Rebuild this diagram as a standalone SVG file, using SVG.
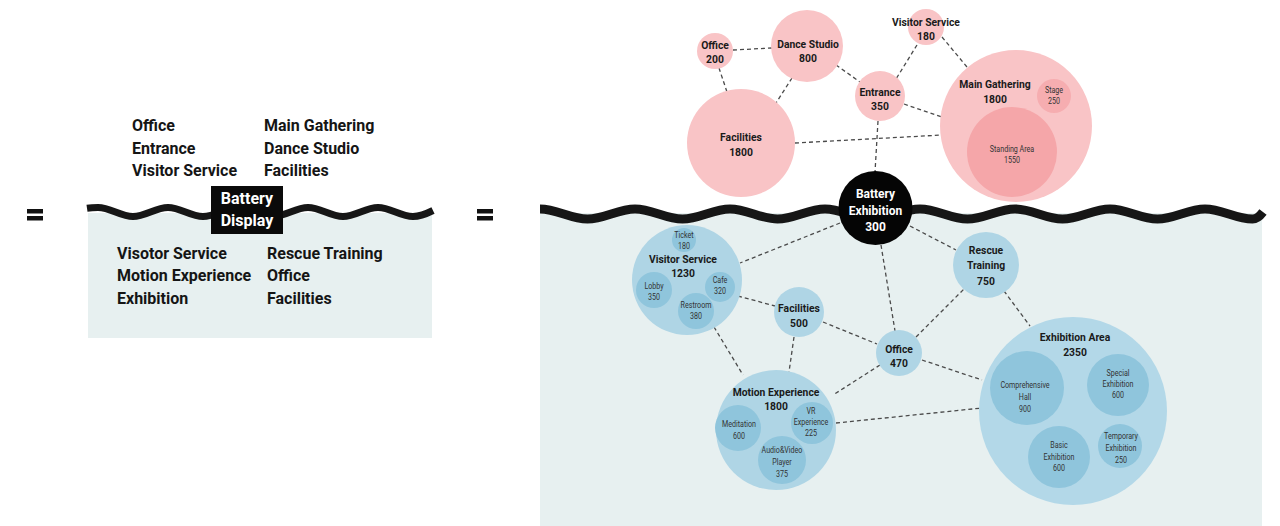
<svg xmlns="http://www.w3.org/2000/svg" width="1280" height="526" viewBox="0 0 1280 526">
<style>
.big{font-family:Roboto,"DejaVu Sans",sans-serif;font-weight:700;font-size:16px;fill:#151515}
.bx{font-family:Roboto,"DejaVu Sans",sans-serif;font-weight:700;font-size:16px;fill:#fff;text-anchor:middle}
.lbl{font-family:Roboto,"DejaVu Sans",sans-serif;font-weight:700;font-size:11.5px;fill:#1a1a1a;text-anchor:middle}
.bat{font-family:Roboto,"DejaVu Sans",sans-serif;font-weight:700;font-size:12px;fill:#fff;text-anchor:middle}
.in{font-family:Roboto,"DejaVu Sans",sans-serif;font-weight:400;font-size:9.5px;fill:#333;text-anchor:middle}
.pk{fill:#f9c4c6}
.pk2{fill:#f5a6a9}
.bl{fill:#afd5e5}
.bl2{fill:#8fc5dc}
.panel{fill:#e7f0f0}
.wave{fill:none;stroke:#161616;stroke-linecap:butt}
.con line{stroke:#4a4a4a;stroke-width:1.3;stroke-dasharray:4 3}
</style>

<!-- background panels -->
<rect class="panel" x="88" y="213" width="344" height="125"/>
<rect class="panel" x="540" y="213" width="722" height="313"/>

<!-- equals signs -->
<g id="eq-left"><rect x="27" y="209" width="16" height="4.5" fill="#111"/><rect x="27" y="216" width="16" height="4.5" fill="#111"/></g>
<g id="eq-right"><rect x="477" y="209" width="16" height="4.5" fill="#111"/><rect x="477" y="216" width="16" height="4.5" fill="#111"/></g>

<!-- waves -->
<path class="wave" stroke-width="7" d="M 87 208.2 C 91 207.6 94 207.5 98 207.5 C 110.6 207.5 120.4 216.5 133 216.5 C 145.6 216.5 155.4 207.5 168 207.5 C 180.6 207.5 190.4 216.5 203 216.5 C 215.6 216.5 225.4 207.5 238 207.5 C 250.6 207.5 260.4 216.5 273 216.5 C 285.6 216.5 295.4 207.5 308 207.5 C 320.6 207.5 330.4 216.5 343 216.5 C 355.6 216.5 365.4 207.5 378 207.5 C 390.6 207.5 400.4 216.5 413 216.5 C 421 216.5 427 213.5 433 210.5"/>
<path class="wave" stroke-width="9" d="M 540 209 C 557 209 570.5 219 587.5 219 S 618 209 635 209 S 665.5 219 682.5 219 S 713 209 730 209 S 760.5 219 777.5 219 S 808 209 825 209 S 855.5 219 872.5 219 S 903 209 920 209 S 950.5 219 967.5 219 S 998 209 1015 209 S 1045.5 219 1062.5 219 S 1093 209 1110 209 S 1140.5 219 1157.5 219 S 1188 209 1205 209 S 1235.5 219 1252.5 219 C 1257 219 1260 216 1263 212"/>

<!-- left summary -->
<g id="summary-above">
<text class="big" x="132" y="131">Office</text>
<text class="big" x="132" y="154">Entrance</text>
<text class="big" x="132" y="176">Visitor Service</text>
<text class="big" x="264" y="131">Main Gathering</text>
<text class="big" x="264" y="154">Dance Studio</text>
<text class="big" x="264" y="176">Facilities</text>
</g>
<g id="battery-display">
<rect x="211" y="186" width="72" height="48" fill="#0a0a0a"/>
<text class="bx" x="247" y="204">Battery</text>
<text class="bx" x="247" y="226">Display</text>
</g>
<g id="summary-below">
<text class="big" x="117" y="259">Visotor Service</text>
<text class="big" x="117" y="281">Motion Experience</text>
<text class="big" x="117" y="304">Exhibition</text>
<text class="big" x="267" y="259">Rescue Training</text>
<text class="big" x="267" y="281">Office</text>
<text class="big" x="267" y="304">Facilities</text>
</g>

<!-- connectors -->
<g id="connectors" class="con">
<line x1="733" y1="50" x2="772" y2="48"/>
<line x1="719" y1="68" x2="727" y2="92"/>
<line x1="792" y1="78" x2="776" y2="103"/>
<line x1="836" y1="65" x2="860" y2="82"/>
<line x1="917" y1="45" x2="896" y2="79"/>
<line x1="942" y1="37" x2="967" y2="67"/>
<line x1="904" y1="104" x2="942" y2="117"/>
<line x1="795" y1="143" x2="942" y2="135"/>
<line x1="878" y1="121" x2="875" y2="172"/>
<line x1="840" y1="223" x2="740" y2="263"/>
<line x1="910" y1="226" x2="956" y2="250"/>
<line x1="881" y1="245" x2="895" y2="331"/>
<line x1="738" y1="296" x2="775" y2="306"/>
<line x1="714" y1="327" x2="743" y2="375"/>
<line x1="794" y1="337" x2="789" y2="372"/>
<line x1="823" y1="322" x2="877" y2="344"/>
<line x1="916" y1="337" x2="966" y2="287"/>
<line x1="880" y1="365" x2="833" y2="395"/>
<line x1="922" y1="360" x2="982" y2="380"/>
<line x1="1004" y1="291" x2="1030" y2="326"/>
<line x1="836" y1="423" x2="982" y2="408"/>
</g>

<!-- above-ground nodes -->
<g id="node-office-top">
<circle class="pk" cx="715" cy="51" r="18"/>
<text class="lbl" transform="translate(715 0) scale(0.9 1)"><tspan x="0" y="49">Office</tspan><tspan x="0" y="63">200</tspan></text>
</g>
<g id="node-dance-studio">
<circle class="pk" cx="807" cy="46" r="36"/>
<text class="lbl" transform="translate(808 0) scale(0.9 1)"><tspan x="0" y="48">Dance Studio</tspan><tspan x="0" y="62">800</tspan></text>
</g>
<g id="node-visitor-top">
<circle class="pk" cx="926" cy="27" r="18"/>
<text class="lbl" transform="translate(926 0) scale(0.9 1)"><tspan x="0" y="26">Visitor Service</tspan><tspan x="0" y="40">180</tspan></text>
</g>
<g id="node-entrance">
<circle class="pk" cx="880" cy="96" r="25"/>
<text class="lbl" transform="translate(880 0) scale(0.9 1)"><tspan x="0" y="96">Entrance</tspan><tspan x="0" y="110">350</tspan></text>
</g>
<g id="node-facilities-top">
<circle class="pk" cx="741" cy="143" r="54"/>
<text class="lbl" transform="translate(741 0) scale(0.9 1)"><tspan x="0" y="141.5">Facilities</tspan><tspan x="0" y="156.5">1800</tspan></text>
</g>
<g id="node-main-gathering">
<circle class="pk" cx="1016" cy="126" r="76"/>
<circle class="pk2" cx="1012" cy="152" r="45"/>
<circle cx="1054" cy="96" r="17" fill="#f6adb0"/>
<text class="lbl" transform="translate(995 0) scale(0.9 1)"><tspan x="0" y="88">Main Gathering</tspan><tspan x="0" y="103">1800</tspan></text>
<text class="in" transform="translate(1054 0) scale(0.75 1)"><tspan x="0" y="93">Stage</tspan><tspan x="0" y="104">250</tspan></text>
<text class="in" transform="translate(1012 0) scale(0.75 1)"><tspan x="0" y="152">Standing Area</tspan><tspan x="0" y="163">1550</tspan></text>
</g>

<!-- battery -->
<g id="node-battery">
<circle cx="875.5" cy="208" r="37" fill="#050505"/>
<text class="bat"><tspan x="875.5" y="198">Battery</tspan><tspan x="875.5" y="215">Exhibition</tspan><tspan x="875.5" y="231">300</tspan></text>
</g>

<!-- below-ground nodes -->
<g id="node-visitor-bottom">
<circle class="bl" cx="687" cy="280" r="55"/>
<circle class="bl2" cx="684" cy="240" r="12"/>
<circle class="bl2" cx="654" cy="290" r="18"/>
<circle class="bl2" cx="720" cy="287" r="15"/>
<circle class="bl2" cx="696" cy="311" r="18"/>
<text class="lbl" transform="translate(683 0) scale(0.9 1)"><tspan x="0" y="263">Visitor Service</tspan><tspan x="0" y="277">1230</tspan></text>
<text class="in" transform="translate(684 0) scale(0.75 1)"><tspan x="0" y="238">Ticket</tspan><tspan x="0" y="249">180</tspan></text>
<text class="in" transform="translate(654 0) scale(0.75 1)"><tspan x="0" y="289">Lobby</tspan><tspan x="0" y="300">350</tspan></text>
<text class="in" transform="translate(720 0) scale(0.75 1)"><tspan x="0" y="283">Cafe</tspan><tspan x="0" y="294">320</tspan></text>
<text class="in" transform="translate(696 0) scale(0.75 1)"><tspan x="0" y="308">Restroom</tspan><tspan x="0" y="319">380</tspan></text>
</g>
<g id="node-facilities-bottom">
<circle class="bl" cx="799" cy="312" r="25"/>
<text class="lbl" transform="translate(799 0) scale(0.9 1)"><tspan x="0" y="312">Facilities</tspan><tspan x="0" y="327">500</tspan></text>
</g>
<g id="node-rescue">
<circle class="bl" cx="986" cy="265" r="33"/>
<text class="lbl" transform="translate(986 0) scale(0.9 1)"><tspan x="0" y="254">Rescue</tspan><tspan x="0" y="269.5">Training</tspan><tspan x="0" y="285">750</tspan></text>
</g>
<g id="node-office-bottom">
<circle class="bl" cx="899" cy="353" r="23"/>
<text class="lbl" transform="translate(899 0) scale(0.9 1)"><tspan x="0" y="353">Office</tspan><tspan x="0" y="367">470</tspan></text>
</g>
<g id="node-motion">
<circle class="bl" cx="776" cy="430" r="60"/>
<circle class="bl2" cx="738" cy="428" r="23"/>
<circle class="bl2" cx="812" cy="423" r="21"/>
<circle class="bl2" cx="782" cy="460" r="24"/>
<text class="lbl" transform="translate(776 0) scale(0.9 1)"><tspan x="0" y="396">Motion Experience</tspan><tspan x="0" y="410.5">1800</tspan></text>
<text class="in" transform="translate(739 0) scale(0.75 1)"><tspan x="0" y="427">Meditation</tspan><tspan x="0" y="439">600</tspan></text>
<text class="in" transform="translate(811 0) scale(0.75 1)"><tspan x="0" y="414">VR</tspan><tspan x="0" y="425">Experience</tspan><tspan x="0" y="436">225</tspan></text>
<text class="in" transform="translate(782 0) scale(0.75 1)"><tspan x="0" y="453">Audio&amp;Video</tspan><tspan x="0" y="465">Player</tspan><tspan x="0" y="477">375</tspan></text>
</g>
<g id="node-exhibition">
<circle cx="1073" cy="411" r="94" fill="#b3d8e8"/>
<circle class="bl2" cx="1027" cy="388" r="37"/>
<circle class="bl2" cx="1118" cy="385" r="31"/>
<circle class="bl2" cx="1059" cy="457" r="31"/>
<circle class="bl2" cx="1120" cy="446" r="22"/>
<text class="lbl" transform="translate(1075 0) scale(0.9 1)"><tspan x="0" y="341">Exhibition Area</tspan><tspan x="0" y="356">2350</tspan></text>
<text class="in" transform="translate(1025 0) scale(0.75 1)"><tspan x="0" y="388">Comprehensive</tspan><tspan x="0" y="400">Hall</tspan><tspan x="0" y="412">900</tspan></text>
<text class="in" transform="translate(1118 0) scale(0.75 1)"><tspan x="0" y="376">Special</tspan><tspan x="0" y="387">Exhibition</tspan><tspan x="0" y="398">600</tspan></text>
<text class="in" transform="translate(1059 0) scale(0.75 1)"><tspan x="0" y="448">Basic</tspan><tspan x="0" y="460">Exhibition</tspan><tspan x="0" y="471">600</tspan></text>
<text class="in" transform="translate(1121 0) scale(0.75 1)"><tspan x="0" y="439">Temporary</tspan><tspan x="0" y="451">Exhibition</tspan><tspan x="0" y="463">250</tspan></text>
</g>
</svg>
